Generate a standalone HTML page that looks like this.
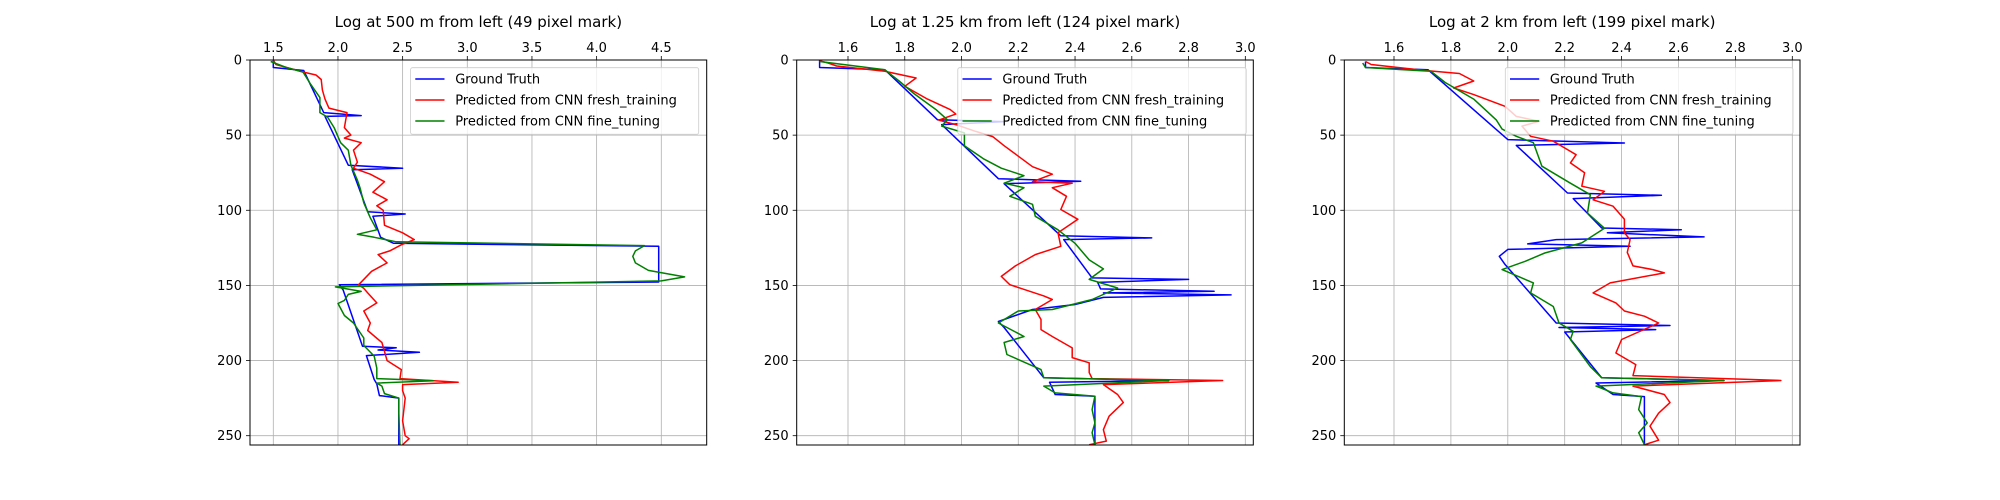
<!DOCTYPE html>
<html><head><meta charset="utf-8"><style>
html,body{margin:0;padding:0;background:#fff;}
svg{display:block;font-family:"DejaVu Sans","Liberation Sans",sans-serif;}
</style></head><body>
<svg id="fig" width="2000" height="500" viewBox="0 0 2000 500" xmlns="http://www.w3.org/2000/svg"></svg>
<script>
// ---- data (depth, value) ----
const yTicks = [0, 50, 100, 150, 200, 250];
const p1Ticks = [1.5, 2.0, 2.5, 3.0, 3.5, 4.0, 4.5];
const p23Ticks = [1.6, 1.8, 2.0, 2.2, 2.4, 2.6, 2.8, 3.0];
const titles = ["Log at 500 m from left (49 pixel mark)", "Log at 1.25 km from left (124 pixel mark)", "Log at 2 km from left (199 pixel mark)"];
const legendLabels = ["Ground Truth", "Predicted from CNN fresh_training", "Predicted from CNN fine_tuning"];

const p1Gt = [[0,1.5],[5,1.5],[7,1.735],[35,1.89],[37,2.18],[37.5,1.9],[70,2.08],[72,2.5],[73,2.11],[101,2.23],[102.5,2.52],[104,2.27],[118,2.33],[122,2.43],[124,4.48],[147.7,4.48],[149.5,2.01],[153,2.04],[190.5,2.19],[191.5,2.45],[193,2.31],[194.5,2.63],[196.7,2.22],[212.6,2.28],[215.5,2.3],[223.3,2.32],[225,2.47],[256,2.47]];
const p1Red = [[0,1.5],[3,1.52],[8,1.73],[10,1.83],[13,1.87],[20,1.88],[26,1.9],[32,1.93],[35,2.07],[40,2.06],[45,2.05],[50,2.1],[52,2.05],[55,2.18],[60,2.12],[68,2.15],[72,2.12],[76,2.25],[81,2.36],[88,2.27],[93,2.38],[97,2.3],[100,2.35],[110,2.36],[115,2.5],[119.5,2.59],[123,2.49],[127,2.4],[129.5,2.31],[135,2.38],[140.6,2.26],[149.5,2.16],[152,2.2],[155,2.23],[161.6,2.3],[167,2.2],[175,2.25],[180,2.23],[188,2.34],[200,2.38],[206,2.49],[212,2.48],[214.4,2.93],[216,2.5],[220,2.5],[225,2.52],[240,2.5],[250,2.52],[252,2.55],[256,2.5]];
const p1Green = [[1,1.48],[5,1.6],[8,1.73],[15,1.78],[25,1.86],[35,1.86],[38,1.92],[45,1.97],[55,2.02],[60,2.08],[70,2.1],[80,2.15],[85,2.17],[95,2.2],[105,2.25],[113,2.3],[116,2.15],[118,2.28],[121,2.45],[123.5,4.37],[127,4.3],[130.6,4.28],[135,4.3],[140,4.4],[144.3,4.68],[147,4.5],[151,1.98],[154,2.18],[156,2.08],[160,2.05],[162,2.0],[170,2.05],[175,2.12],[185,2.2],[190,2.2],[197,2.28],[205,2.3],[212,2.3],[213.5,2.74],[215,2.3],[217,2.34],[222,2.36],[225,2.47],[235,2.47],[256,2.48]];

const p2Gt = [[0,1.5],[5,1.5],[6.5,1.73],[39.7,1.915],[41,2.15],[43,1.93],[79,2.13],[80.7,2.42],[82.3,2.15],[117,2.35],[118.4,2.67],[119.5,2.36],[145,2.46],[146,2.8],[148,2.48],[152.3,2.49],[153.9,2.89],[155,2.5],[156.3,2.95],[158,2.5],[162.7,2.4],[166,2.25],[174,2.13],[178,2.15],[211.5,2.29],[213.3,2.73],[214.4,2.31],[222.6,2.33],[223.7,2.47],[256,2.47]];
const p2Red = [[0.5,1.5],[2,1.53],[4,1.56],[7.5,1.73],[12,1.84],[17.5,1.8],[26,1.88],[33,1.96],[36,1.98],[40,1.92],[43,1.98],[47.5,2.05],[51,2.11],[57,2.15],[64,2.2],[71,2.25],[76,2.32],[81,2.25],[82,2.39],[85,2.32],[90.7,2.37],[99.5,2.35],[106,2.41],[115,2.34],[124,2.35],[129.5,2.26],[137,2.19],[144,2.14],[149.5,2.17],[157,2.29],[159.4,2.32],[166,2.26],[172.7,2.28],[179.4,2.28],[184,2.32],[191.6,2.39],[198,2.39],[201.5,2.45],[208,2.45],[212,2.46],[213.3,2.92],[216,2.5],[222.6,2.55],[228,2.57],[237,2.52],[246,2.5],[253.6,2.51],[256,2.45]];
const p2Green = [[1,1.5],[6.5,1.73],[14,1.78],[22,1.83],[33,1.91],[39.7,1.95],[44,1.93],[48.5,2.01],[57,2.01],[66,2.08],[72,2.14],[77,2.22],[82,2.15],[85,2.22],[90.7,2.17],[96,2.25],[104,2.26],[113,2.34],[122,2.4],[133,2.45],[139,2.5],[146,2.45],[151.7,2.55],[159.4,2.46],[166,2.32],[167,2.2],[175,2.13],[184,2.22],[188,2.15],[196,2.16],[206,2.28],[211.5,2.29],[213.3,2.73],[217,2.29],[221.5,2.33],[223.7,2.47],[232.6,2.46],[241.5,2.47],[248,2.46],[256,2.47]];

const p3Gt = [[1,1.5],[5,1.5],[6.5,1.72],[53,2.0],[55.2,2.41],[56.8,2.03],[88.5,2.21],[90,2.54],[92.2,2.23],[111.8,2.33],[112.9,2.61],[115,2.35],[117.7,2.69],[119.5,2.17],[122.4,2.07],[124,2.43],[126,2.0],[130.6,1.97],[136,1.99],[175,2.17],[176.7,2.57],[178,2.18],[179.4,2.52],[181,2.2],[211.5,2.33],[213.3,2.76],[214.9,2.31],[222.6,2.37],[224,2.48],[256,2.48]];
const p3Red = [[1,1.5],[3,1.52],[7,1.71],[9,1.83],[14,1.88],[18.6,1.81],[23,1.88],[30.8,1.99],[37.5,2.03],[40.8,2.11],[44,2.05],[50.8,2.08],[54,2.16],[59.6,2.21],[63,2.24],[68.5,2.22],[75,2.27],[84,2.26],[87.4,2.34],[93,2.3],[97.3,2.37],[106,2.41],[115,2.41],[119.5,2.43],[128,2.42],[137,2.44],[139.5,2.51],[141.7,2.55],[148.3,2.36],[155,2.3],[161.6,2.38],[167,2.41],[170.5,2.48],[175,2.53],[186,2.4],[195,2.38],[202.7,2.45],[210,2.44],[213.3,2.96],[217,2.44],[222.6,2.55],[228,2.57],[235,2.53],[243.7,2.5],[253,2.53],[256,2.48]];
const p3Green = [[2,1.49],[5,1.5],[7.5,1.73],[15,1.78],[26,1.88],[40,1.96],[46,1.98],[50.8,2.03],[55,2.09],[70.7,2.12],[82,2.22],[89.6,2.29],[101.8,2.28],[112,2.34],[121.7,2.26],[128.4,2.13],[134,2.06],[139.5,1.98],[148.3,2.09],[155,2.08],[164,2.16],[175,2.18],[180.5,2.23],[186,2.22],[204,2.29],[211.5,2.33],[213.3,2.76],[217,2.31],[221.5,2.37],[224,2.47],[232.6,2.46],[241.5,2.49],[248,2.46],[256,2.48]];

// ---- layout ----
const NS = "http://www.w3.org/2000/svg";
const svg = document.getElementById('fig');
const panels = [
  {L:250,R:706.7,x0:273.3,v0:1.5,pxPer:129.33,ticks:p1Ticks,series:[p1Gt,p1Red,p1Green],leg:[410.6,698.7]},
  {L:796.7,R:1253.3,x0:848,v0:1.6,pxPer:283.8,ticks:p23Ticks,series:[p2Gt,p2Red,p2Green],leg:[957.8,1246.2]},
  {L:1344.3,R:1800,x0:1394,v0:1.6,pxPer:284.5,ticks:p23Ticks,series:[p3Gt,p3Red,p3Green],leg:[1505.3,1793]}
];
const T = 60, B = 445, yPer = (436 - 60.3) / 250;
const colors = ['#0000ff', '#ff0000', '#008000'];
const seriesNames = ['ground-truth', 'fresh-training', 'fine-tuning'];
function el(tag, attrs, parent) {
  const e = document.createElementNS(NS, tag);
  for (const k in attrs) e.setAttribute(k, attrs[k]);
  (parent || svg).appendChild(e);
  return e;
}
panels.forEach((p, i) => {
  const xs = v => p.x0 + (v - p.v0) * p.pxPer;
  const ys = d => T + d * yPer;
  const g = el('g', {});
  
  
  const clipId = 'clip' + i;
  const cp = el('clipPath', {id: clipId}, g);
  el('rect', {x: p.L, y: T, width: p.R - p.L, height: B - T}, cp);
  p.ticks.forEach(t => {
    const x = xs(t);
    const gl = el('line', {x1: x, x2: x, y1: T, y2: B, stroke: '#b0b0b0', 'stroke-width': 0.8}, g);
    
    
    el('line', {x1: x, x2: x, y1: T, y2: T - 4, stroke: '#000', 'stroke-width': 0.8}, g);
    const tl = el('text', {x: x, y: T - 8, 'text-anchor': 'middle', 'font-size': 13, fill: '#000'}, g);
    tl.textContent = t.toFixed(1);
    
    
  });
  yTicks.forEach(t => {
    const y = ys(t);
    const gl = el('line', {x1: p.L, x2: p.R, y1: y, y2: y, stroke: '#b0b0b0', 'stroke-width': 0.8}, g);
    
    
    el('line', {x1: p.L, x2: p.L - 4, y1: y, y2: y, stroke: '#000', 'stroke-width': 0.8}, g);
    const tl = el('text', {x: p.L - 8, y: y + 4.5, 'text-anchor': 'end', 'font-size': 13, fill: '#000'}, g);
    tl.textContent = String(t);
    
    
  });
  p.series.forEach((s, k) => {
    const d = s.map((pt, j) => (j ? 'L' : 'M') + xs(pt[1]).toFixed(1) + ',' + ys(pt[0]).toFixed(1)).join('');
    const path = el('path', {d: d, fill: 'none', stroke: colors[k], 'stroke-width': 1.5, 'stroke-linejoin': 'round', 'clip-path': 'url(#' + clipId + ')'}, g);
    
    
  });
  const fr = el('rect', {x: p.L, y: T, width: p.R - p.L, height: B - T, fill: 'none', stroke: '#000', 'stroke-width': 1}, g);
  
  
  const tt = el('text', {x: (p.L + p.R) / 2, y: 27, 'text-anchor': 'middle', 'font-size': 15, fill: '#000'}, g);
  tt.textContent = titles[i];
  
  
  const lg = el('g', {}, g);
  
  
  el('rect', {x: p.leg[0], y: 67.7, width: p.leg[1] - p.leg[0], height: 66.6, rx: 2, fill: 'rgba(255,255,255,0.8)', stroke: '#cccccc', 'stroke-width': 0.8}, lg);
  legendLabels.forEach((lab, k) => {
    const y = 79 + k * 21;
    const ln = el('line', {x1: p.leg[0] + 4.7, x2: p.leg[0] + 33.9, y1: y, y2: y, stroke: colors[k], 'stroke-width': 1.5}, lg);
    
    
    const tx = el('text', {x: p.leg[0] + 44.6, y: y + 4.5, 'font-size': 13, fill: '#000'}, lg);
    tx.textContent = lab;
    
    
  });
});
</script>
</body></html>
